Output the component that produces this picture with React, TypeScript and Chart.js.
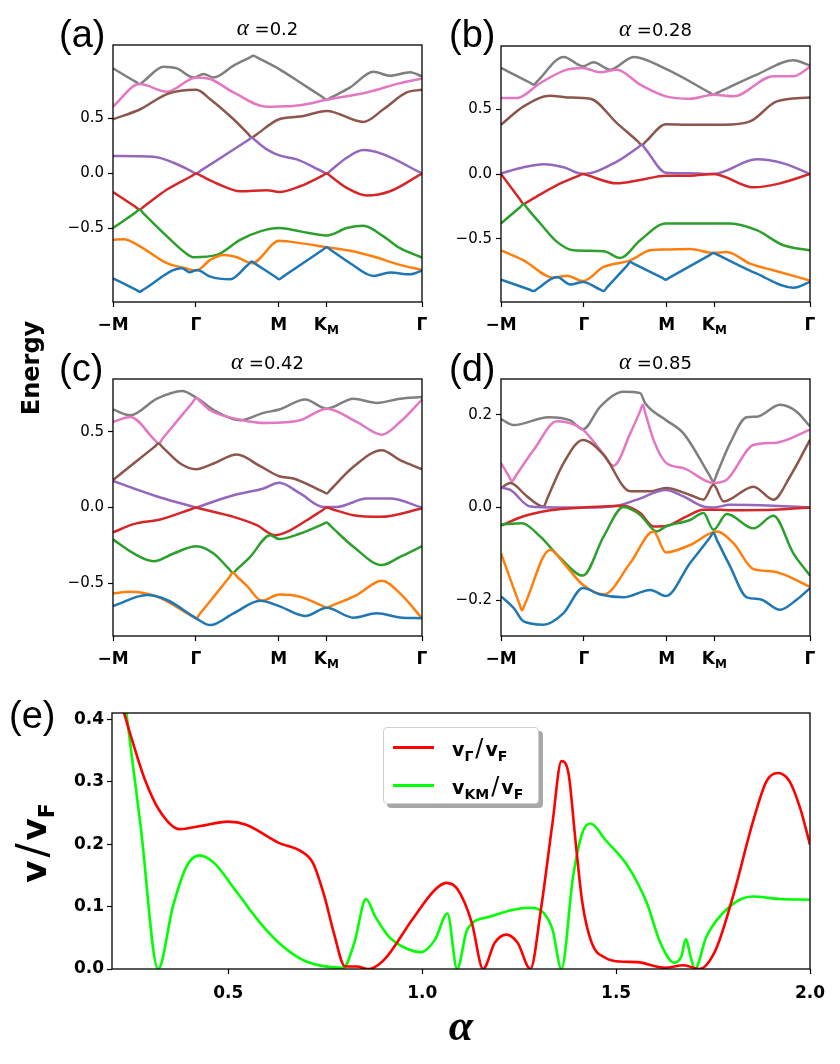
import { useEffect, useRef } from "react";
import { Chart, registerables } from "chart.js";
Chart.register(...registerables);

type P = [number, number];

const BAND_COLORS = ["#1f77b4", "#ff7f0e", "#2ca02c", "#d62728", "#9467bd", "#8c564b", "#e377c2", "#7f7f7f"];

// k-path: -M -> Γ -> M -> K_M -> Γ
const kTicks = [0, 1, 2, 2.577, 3.732];
const kLabels: string[][] = [["−M", ""], ["Γ", ""], ["M", ""], ["K", "M"], ["Γ", ""]];

// ---------- panel (a) alpha = 0.2 ----------
const aBlue: P[] = [[0, -0.954], [0.28, -1.06], [0.322, -1.076], [0.37, -1.056], [0.833, -0.863], [0.925, -0.899], [1.014, -0.878], [1.174, -0.939], [1.416, -0.963], [1.63, -0.831], [1.677, -0.802], [1.72, -0.823], [1.96, -0.94], [2.007, -0.963], [2.05, -0.941], [2.53, -0.697], [2.582, -0.671], [2.63, -0.696], [2.864, -0.817], [3.145, -0.933], [3.346, -0.902], [3.588, -0.918], [3.732, -0.884]];
const aOrange: P[] = [[0, -0.604], [0.129, -0.598], [0.33, -0.665], [0.652, -0.817], [0.873, -0.863], [1.005, -0.884], [1.174, -0.787], [1.335, -0.741], [1.496, -0.762], [1.677, -0.817], [2.007, -0.613], [2.26, -0.634], [2.582, -0.671], [2.864, -0.704], [3.145, -0.756], [3.467, -0.832], [3.732, -0.878]];
const aGreen: P[] = [[0, -0.497], [0.27, -0.356], [0.322, -0.329], [0.37, -0.365], [0.652, -0.573], [0.853, -0.71], [0.973, -0.762], [1.255, -0.741], [1.536, -0.604], [1.778, -0.527], [2.007, -0.497], [2.26, -0.527], [2.582, -0.564], [2.823, -0.497], [3.025, -0.476], [3.266, -0.573], [3.467, -0.68], [3.732, -0.765]];
const aRed: P[] = [[0, -0.168], [0.27, -0.303], [0.322, -0.329], [0.37, -0.303], [0.652, -0.146], [0.95, -0.023], [1.005, 0], [1.06, -0.02], [1.255, -0.091], [1.536, -0.162], [1.858, -0.152], [2.007, -0.168], [2.26, -0.116], [2.53, -0.02], [2.582, 0], [2.63, -0.026], [2.823, -0.131], [3.065, -0.201], [3.346, -0.162], [3.732, 0]];
const aPurple: P[] = [[0, 0.159], [0.491, 0.152], [0.732, 0.098], [0.95, 0.02], [1.005, 0], [1.06, 0.026], [1.335, 0.159], [1.63, 0.303], [1.677, 0.326], [1.72, 0.3], [1.858, 0.22], [2.007, 0.165], [2.22, 0.128], [2.53, 0.018], [2.582, 0], [2.63, 0.028], [2.823, 0.143], [3.025, 0.213], [3.266, 0.174], [3.732, 0]];
const aBrown: P[] = [[0, 0.494], [0.33, 0.585], [0.652, 0.723], [1.005, 0.762], [1.174, 0.677], [1.456, 0.494], [1.63, 0.362], [1.677, 0.326], [1.72, 0.348], [2.007, 0.494], [2.26, 0.518], [2.582, 0.57], [3.025, 0.47], [3.266, 0.585], [3.547, 0.738], [3.732, 0.762]];
const aPink: P[] = [[0, 0.61], [0.322, 0.814], [0.652, 0.744], [1.005, 0.875], [1.174, 0.86], [1.456, 0.738], [1.858, 0.607], [2.007, 0.61], [2.26, 0.622], [2.582, 0.671], [3.065, 0.738], [3.467, 0.823], [3.732, 0.866]];
const aGray: P[] = [[0, 0.957], [0.28, 0.832], [0.322, 0.814], [0.37, 0.84], [0.611, 0.973], [0.772, 0.957], [0.973, 0.875], [1.094, 0.905], [1.215, 0.875], [1.456, 0.982], [1.65, 1.055], [1.697, 1.073], [1.75, 1.052], [2.007, 0.951], [2.26, 0.829], [2.53, 0.696], [2.582, 0.671], [2.63, 0.69], [2.864, 0.784], [3.145, 0.927], [3.346, 0.89], [3.588, 0.921], [3.732, 0.884]];

// ---------- panel (b) alpha = 0.28 ----------
const bBlue: P[] = [[0, -0.814], [0.35, -0.892], [0.394, -0.902], [0.44, -0.884], [0.676, -0.794], [0.837, -0.851], [0.989, -0.832], [1.2, -0.891], [1.239, -0.902], [1.28, -0.873], [1.52, -0.707], [1.561, -0.678], [1.6, -0.69], [1.95, -0.801], [1.991, -0.814], [2.04, -0.796], [2.52, -0.625], [2.566, -0.608], [2.61, -0.621], [3.089, -0.768], [3.531, -0.876], [3.732, -0.832]];
const bOrange: P[] = [[0, -0.588], [0.273, -0.665], [0.635, -0.799], [0.796, -0.784], [0.989, -0.825], [1.239, -0.716], [1.561, -0.665], [1.802, -0.588], [1.991, -0.582], [2.284, -0.577], [2.566, -0.608], [2.727, -0.601], [3.008, -0.691], [3.29, -0.742], [3.732, -0.82]];
const bGreen: P[] = [[0, -0.381], [0.23, -0.256], [0.273, -0.232], [0.32, -0.267], [0.475, -0.381], [0.676, -0.523], [0.877, -0.588], [1.239, -0.595], [1.44, -0.647], [1.681, -0.51], [1.991, -0.381], [2.284, -0.381], [2.767, -0.381], [3.089, -0.433], [3.411, -0.549], [3.732, -0.588]];
const bRed: P[] = [[0, 0], [0.23, -0.196], [0.273, -0.232], [0.32, -0.215], [0.676, -0.085], [0.94, -0.013], [0.989, 0], [1.04, -0.009], [1.4, -0.072], [1.681, -0.046], [1.991, -0.013], [2.284, -0.013], [2.566, 0], [3.049, -0.103], [3.371, -0.072], [3.732, 0]];
const bPurple: P[] = [[0, 0.005], [0.273, 0.052], [0.515, 0.075], [0.756, 0.052], [0.989, 0], [1.4, 0.095], [1.65, 0.202], [1.701, 0.224], [1.75, 0.188], [1.991, 0.01], [2.284, 0.005], [2.566, 0], [3.089, 0.113], [3.411, 0.082], [3.732, 0]];
const bBrown: P[] = [[0, 0.379], [0.273, 0.521], [0.595, 0.603], [0.796, 0.59], [1.078, 0.58], [1.4, 0.392], [1.65, 0.253], [1.701, 0.224], [1.75, 0.251], [1.991, 0.384], [2.284, 0.379], [2.687, 0.379], [3.008, 0.405], [3.33, 0.559], [3.732, 0.59]];
const bPink: P[] = [[0, 0.585], [0.193, 0.585], [0.475, 0.701], [0.796, 0.804], [0.989, 0.817], [1.199, 0.784], [1.4, 0.804], [1.681, 0.688], [1.991, 0.598], [2.284, 0.58], [2.566, 0.611], [2.807, 0.598], [3.29, 0.753], [3.531, 0.753], [3.732, 0.825]];
const bGray: P[] = [[0, 0.817], [0.35, 0.703], [0.394, 0.688], [0.44, 0.715], [0.756, 0.902], [0.989, 0.83], [1.118, 0.861], [1.319, 0.804], [1.601, 0.902], [1.991, 0.809], [2.52, 0.627], [2.566, 0.611], [2.61, 0.624], [3.089, 0.765], [3.531, 0.876], [3.732, 0.835]];

// ---------- panel (c) alpha = 0.42 ----------
const cBlue: P[] = [[0, -0.652], [0.41, -0.579], [0.652, -0.612], [1.005, -0.733], [1.174, -0.778], [1.456, -0.7], [1.778, -0.617], [2.007, -0.652], [2.321, -0.718], [2.582, -0.663], [2.904, -0.729], [3.185, -0.7], [3.467, -0.727], [3.732, -0.733]];
const cOrange: P[] = [[0, -0.568], [0.209, -0.557], [0.531, -0.59], [0.96, -0.72], [1.005, -0.733], [1.05, -0.703], [1.227, -0.583], [1.4, -0.465], [1.448, -0.432], [1.5, -0.458], [1.62, -0.52], [1.798, -0.617], [2.007, -0.575], [2.26, -0.59], [2.53, -0.651], [2.582, -0.663], [2.63, -0.652], [2.944, -0.579], [3.246, -0.485], [3.467, -0.568], [3.732, -0.733]];
const cGreen: P[] = [[0, -0.211], [0.249, -0.304], [0.491, -0.355], [0.732, -0.304], [1.005, -0.256], [1.215, -0.304], [1.4, -0.406], [1.448, -0.432], [1.5, -0.407], [1.657, -0.326], [1.898, -0.183], [2.007, -0.209], [2.26, -0.172], [2.53, -0.111], [2.582, -0.099], [2.63, -0.123], [2.904, -0.26], [3.246, -0.381], [3.467, -0.326], [3.732, -0.256]];
const cRed: P[] = [[0, -0.165], [0.249, -0.11], [0.571, -0.079], [0.95, -0.01], [1.005, 0], [1.06, -0.008], [1.456, -0.062], [1.737, -0.117], [1.959, -0.183], [2.1, -0.161], [2.341, -0.084], [2.53, -0.018], [2.582, 0], [2.63, -0.008], [2.904, -0.051], [3.226, -0.062], [3.732, -0.007]];
const cPurple: P[] = [[0, 0.176], [0.249, 0.126], [0.571, 0.066], [0.95, 0.008], [1.005, 0], [1.06, 0.01], [1.456, 0.081], [1.818, 0.126], [2.007, 0.163], [2.26, 0.093], [2.542, 0.004], [2.703, 0.004], [3.065, 0.059], [3.346, 0.059], [3.732, 0]];
const cBrown: P[] = [[0, 0.181], [0.249, 0.291], [0.5, 0.401], [0.551, 0.423], [0.6, 0.398], [0.812, 0.291], [1.005, 0.253], [1.215, 0.291], [1.496, 0.35], [1.778, 0.273], [2.007, 0.207], [2.18, 0.192], [2.53, 0.106], [2.582, 0.093], [2.63, 0.119], [2.904, 0.269], [3.246, 0.379], [3.467, 0.313], [3.732, 0.253]];
const cPink: P[] = [[0, 0.566], [0.209, 0.599], [0.5, 0.449], [0.551, 0.423], [0.6, 0.456], [0.96, 0.695], [1.005, 0.725], [1.05, 0.703], [1.174, 0.643], [1.536, 0.581], [1.858, 0.559], [2.26, 0.577], [2.582, 0.654], [2.944, 0.566], [3.246, 0.482], [3.467, 0.566], [3.732, 0.714]];
const cGray: P[] = [[0, 0.648], [0.209, 0.61], [0.531, 0.72], [0.833, 0.771], [1.005, 0.727], [1.255, 0.632], [1.536, 0.577], [1.818, 0.626], [2.007, 0.648], [2.321, 0.714], [2.582, 0.654], [2.904, 0.72], [3.185, 0.692], [3.467, 0.72], [3.732, 0.731]];

// ---------- panel (d) alpha = 0.85 ----------
const dBlue: P[] = [[0, -0.192], [0.153, -0.217], [0.273, -0.246], [0.515, -0.253], [0.756, -0.228], [0.989, -0.174], [1.199, -0.188], [1.48, -0.194], [1.802, -0.178], [1.991, -0.191], [2.284, -0.12], [2.52, -0.066], [2.566, -0.055], [2.61, -0.071], [2.767, -0.127], [2.968, -0.194], [3.129, -0.198], [3.37, -0.221], [3.571, -0.199], [3.732, -0.174]];
const dOrange: P[] = [[0, -0.099], [0.22, -0.207], [0.253, -0.222], [0.29, -0.208], [0.595, -0.091], [0.756, -0.12], [0.989, -0.167], [1.239, -0.188], [1.561, -0.12], [1.842, -0.052], [1.991, -0.097], [2.284, -0.081], [2.606, -0.052], [2.807, -0.077], [3.049, -0.133], [3.29, -0.138], [3.732, -0.171]];
const dGreen: P[] = [[0, -0.037], [0.253, -0.034], [0.475, -0.063], [0.716, -0.109], [0.989, -0.147], [1.239, -0.063], [1.48, 0.001], [1.681, -0.016], [1.882, -0.052], [1.991, -0.041], [2.284, -0.027], [2.445, -0.012], [2.566, -0.048], [2.727, -0.014], [3.049, -0.045], [3.29, -0.018], [3.531, -0.099], [3.732, -0.147]];
const dRed: P[] = [[0, -0.039], [0.273, -0.019], [0.595, -0.006], [0.989, 0], [1.48, 0.004], [1.681, -0.012], [1.842, -0.041], [1.991, -0.04], [2.244, -0.019], [2.445, -0.005], [2.647, -0.005], [2.767, -0.006], [3.29, -0.005], [3.732, 0]];
const dPurple: P[] = [[0, 0.043], [0.113, 0.038], [0.354, 0.002], [0.676, 0], [0.989, 0], [1.4, 0.004], [1.641, 0.017], [1.991, 0.038], [2.204, 0.024], [2.445, 0.002], [2.566, 0], [2.767, 0.006], [3.29, 0.004], [3.732, 0]];
const dBrown: P[] = [[0, 0.042], [0.113, 0.053], [0.314, 0.024], [0.515, 0.002], [0.56, 0.02], [0.756, 0.096], [0.989, 0.146], [1.239, 0.114], [1.561, 0.035], [1.802, 0.035], [1.991, 0.042], [2.284, 0.027], [2.445, 0.017], [2.566, 0.049], [2.687, 0.013], [3.049, 0.045], [3.29, 0.017], [3.491, 0.067], [3.732, 0.146]];
const dPink: P[] = [[0, 0.096], [0.1, 0.066], [0.133, 0.056], [0.17, 0.066], [0.394, 0.124], [0.676, 0.186], [0.989, 0.168], [1.199, 0.124], [1.359, 0.09], [1.561, 0.16], [1.68, 0.208], [1.713, 0.222], [1.74, 0.206], [1.842, 0.146], [1.991, 0.097], [2.204, 0.085], [2.566, 0.053], [2.727, 0.06], [3.049, 0.135], [3.33, 0.14], [3.732, 0.168]];
const dGray: P[] = [[0, 0.191], [0.153, 0.178], [0.575, 0.195], [0.837, 0.188], [0.989, 0.169], [1.199, 0.218], [1.48, 0.25], [1.681, 0.247], [1.742, 0.225], [1.991, 0.189], [2.204, 0.16], [2.52, 0.069], [2.566, 0.056], [2.61, 0.074], [2.767, 0.139], [2.968, 0.195], [3.089, 0.196], [3.37, 0.222], [3.571, 0.207], [3.732, 0.175]];

// ---------- panel (e) velocities vs alpha ----------
const vGamma: P[] = [[0.2, 0.48], [0.231, 0.41], [0.26, 0.35], [0.285, 0.303], [0.321, 0.255], [0.374, 0.224], [0.428, 0.229], [0.499, 0.236], [0.546, 0.231], [0.63, 0.202], [0.689, 0.188], [0.718, 0.17], [0.748, 0.116], [0.772, 0.058], [0.801, 0.004], [0.831, 0.004], [0.861, 0], [0.902, 0.015], [0.974, 0.079], [1.033, 0.127], [1.062, 0.138], [1.092, 0.127], [1.128, 0.074], [1.157, 0], [1.187, 0.042], [1.217, 0.055], [1.246, 0.042], [1.279, 0], [1.306, 0.095], [1.336, 0.234], [1.359, 0.333], [1.377, 0.314], [1.395, 0.207], [1.413, 0.106], [1.437, 0.042], [1.472, 0.018], [1.508, 0.012], [1.555, 0.011], [1.626, 0.002], [1.674, 0.006], [1.715, 0], [1.757, 0.031], [1.804, 0.122], [1.852, 0.234], [1.888, 0.301], [1.917, 0.314], [1.947, 0.301], [1.976, 0.255], [2.0, 0.199]];
const vKM: P[] = [[0.2, 0.6], [0.237, 0.41], [0.274, 0.228], [0.319, 0], [0.357, 0.1], [0.392, 0.164], [0.425, 0.182], [0.463, 0.17], [0.523, 0.122], [0.582, 0.074], [0.641, 0.036], [0.701, 0.012], [0.796, 0.002], [0.825, 0.042], [0.855, 0.112], [0.879, 0.084], [0.914, 0.052], [0.962, 0.032], [0.997, 0.027], [1.033, 0.047], [1.065, 0.089], [1.09, 0], [1.116, 0.063], [1.176, 0.084], [1.235, 0.095], [1.277, 0.098], [1.313, 0.09], [1.336, 0.063], [1.359, 0], [1.389, 0.148], [1.413, 0.218], [1.434, 0.233], [1.472, 0.207], [1.531, 0.164], [1.579, 0.106], [1.614, 0.042], [1.65, 0.01], [1.668, 0.02], [1.68, 0.048], [1.692, 0.02], [1.703, 0], [1.733, 0.052], [1.793, 0.1], [1.852, 0.116], [1.923, 0.112], [2.0, 0.111]];
const eXTicks = [0.5, 1.0, 1.5, 2.0];
const eYTicks = [0, 0.1, 0.2, 0.3, 0.4];

const bandTicks = [-0.5, 0, 0.5];
const dTicks = [-0.2, 0, 0.2];

const WY = 70, PT = 40, PR = 15, HX = 40;

const fmt = (v: number) => (v < 0 ? "−" : "") + Math.abs(v).toFixed(1);

function overlayPlugin(title: string) {
  return {
    id: "overlay",
    afterDraw(chart: any) {
      const { ctx, chartArea } = chart;
      const { left, top, right, bottom } = chartArea;
      ctx.save();
      ctx.strokeStyle = "#000";
      ctx.lineWidth = 1.3;
      ctx.strokeRect(left, top, right - left, bottom - top);
      ctx.fillStyle = "#000";
      ctx.textBaseline = "alphabetic";
      ctx.textAlign = "left";
      const xs = chart.scales.x;
      kTicks.forEach((v, i) => {
        const [main, sub] = kLabels[i];
        const px = xs.getPixelForValue(v);
        ctx.font = "bold 17px 'DejaVu Sans'";
        const wm = ctx.measureText(main).width;
        ctx.font = "bold 12px 'DejaVu Sans'";
        const ws = sub ? ctx.measureText(sub).width : 0;
        const x0 = px - (wm + ws) / 2;
        ctx.font = "bold 17px 'DejaVu Sans'";
        ctx.fillText(main, x0, bottom + 28);
        if (sub) {
          ctx.font = "bold 12px 'DejaVu Sans'";
          ctx.fillText(sub, x0 + wm, bottom + 32);
        }
      });
      ctx.font = "italic 23px 'Liberation Serif'";
      const wa = ctx.measureText("α").width;
      ctx.font = "18px 'DejaVu Sans'";
      const rest = " =" + title;
      const wr = ctx.measureText(rest).width;
      const cx = (left + right) / 2;
      const x0 = cx - (wa + wr) / 2;
      ctx.font = "italic 23px 'Liberation Serif'";
      ctx.fillText("α", x0, top - 10);
      ctx.font = "18px 'DejaVu Sans'";
      ctx.fillText(rest, x0 + wa, top - 10);
      ctx.restore();
    },
  };
}

function BandPanel(props: { bands: P[][]; yMax: number; yTicks: number[]; title: string; l: number; t: number; r: number; b: number }) {
  const ref = useRef<HTMLCanvasElement>(null);
  const { bands, yMax, yTicks, title, l, t, r, b } = props;
  const w = WY + (r - l) + PR;
  const h = PT + (b - t) + HX;
  useEffect(() => {
    const chart = new Chart(ref.current as HTMLCanvasElement, {
      type: "line",
      data: {
        datasets: bands.map((band, i) => ({
          data: band.map(([x, y]) => ({ x, y })),
          borderColor: BAND_COLORS[i],
          borderWidth: 2.5,
          pointRadius: 0,
          fill: false,
          cubicInterpolationMode: "monotone" as const,
        })),
      },
      options: {
        animation: false,
        responsive: false,
        maintainAspectRatio: false,
        events: [],
        layout: { padding: { top: PT, right: PR, left: 0, bottom: 0 } },
        plugins: { legend: { display: false }, tooltip: { enabled: false } },
        scales: {
          x: {
            type: "linear",
            min: 0,
            max: 3.732,
            afterBuildTicks: (s: any) => { s.ticks = kTicks.map((v) => ({ value: v })); },
            afterFit: (s: any) => { s.height = HX; },
            ticks: { display: false },
            grid: { drawOnChartArea: false, drawTicks: true, tickLength: 5, tickColor: "#000", tickWidth: 1.2 },
            border: { display: false },
          },
          y: {
            type: "linear",
            min: -yMax,
            max: yMax,
            afterBuildTicks: (s: any) => { s.ticks = yTicks.map((v) => ({ value: v })); },
            afterFit: (s: any) => { s.width = WY; },
            ticks: { callback: (v: any) => fmt(Number(v)), color: "#000", font: { family: "DejaVu Sans", size: 15 }, padding: 4 },
            grid: { drawOnChartArea: false, drawTicks: true, tickLength: 5, tickColor: "#000", tickWidth: 1.2 },
            border: { display: false },
          },
        },
      },
      plugins: [overlayPlugin(title)],
    } as any);
    return () => chart.destroy();
  }, []);
  return <canvas ref={ref} width={w} height={h} style={{ position: "absolute", left: l - WY, top: t - PT, width: w, height: h }} />;
}

const EWY = 70, EPT = 20, EPR = 25, EHX = 45;

function VelocityPanel() {
  const ref = useRef<HTMLCanvasElement>(null);
  const l = 112, t = 713, r = 810, b = 969;
  const w = EWY + (r - l) + EPR;
  const h = EPT + (b - t) + EHX;
  useEffect(() => {
    const chart = new Chart(ref.current as HTMLCanvasElement, {
      type: "line",
      data: {
        datasets: [
          { data: vGamma.map(([x, y]) => ({ x, y })), borderColor: "#ff0000", borderWidth: 2.6, pointRadius: 0, fill: false, cubicInterpolationMode: "monotone" },
          { data: vKM.map(([x, y]) => ({ x, y })), borderColor: "#00ff00", borderWidth: 2.6, pointRadius: 0, fill: false, cubicInterpolationMode: "monotone" },
        ],
      },
      options: {
        animation: false,
        responsive: false,
        maintainAspectRatio: false,
        events: [],
        layout: { padding: { top: EPT, right: EPR, left: 0, bottom: 0 } },
        plugins: { legend: { display: false }, tooltip: { enabled: false } },
        scales: {
          x: {
            type: "linear",
            min: 0.2,
            max: 2.0,
            afterBuildTicks: (s: any) => { s.ticks = eXTicks.map((v) => ({ value: v })); },
            afterFit: (s: any) => { s.height = EHX; },
            ticks: { callback: (v: any) => Number(v).toFixed(1), color: "#000", font: { family: "DejaVu Sans", size: 17, weight: "bold" }, padding: 9, maxRotation: 0 },
            grid: { drawOnChartArea: false, drawTicks: true, tickLength: 5, tickColor: "#000", tickWidth: 1.2 },
            border: { display: false },
          },
          y: {
            type: "linear",
            min: 0,
            max: 0.41,
            afterBuildTicks: (s: any) => { s.ticks = eYTicks.map((v) => ({ value: v })); },
            afterFit: (s: any) => { s.width = EWY; },
            ticks: { callback: (v: any) => Number(v).toFixed(1), color: "#000", font: { family: "DejaVu Sans", size: 17, weight: "bold" }, padding: 3 },
            grid: { drawOnChartArea: false, drawTicks: true, tickLength: 5, tickColor: "#000", tickWidth: 1.2 },
            border: { display: false },
          },
        },
      },
      plugins: [
        {
          id: "frame",
          afterDraw(chart: any) {
            const { ctx, chartArea } = chart;
            ctx.save();
            ctx.strokeStyle = "#000";
            ctx.lineWidth = 1.3;
            ctx.strokeRect(chartArea.left, chartArea.top, chartArea.right - chartArea.left, chartArea.bottom - chartArea.top);
            ctx.restore();
          },
        },
      ],
    } as any);
    return () => chart.destroy();
  }, []);
  return <canvas ref={ref} width={w} height={h} style={{ position: "absolute", left: l - EWY, top: t - EPT, width: w, height: h }} />;
}

const letter: any = { position: "absolute", fontFamily: "'Liberation Sans'", fontSize: 38, lineHeight: "38px", color: "#000", whiteSpace: "nowrap" };
const subS: any = { fontSize: 14, position: "relative", top: 5 };

function Legend() {
  const row = (color: string, top: number, sub: string) => (
    <div style={{ position: "absolute", left: 0, top, width: 155, height: 30 }}>
      <div style={{ position: "absolute", left: 9, top: 13, width: 41, height: 3, background: color }} />
      <div style={{ position: "absolute", left: 68, top: 0, height: 30, lineHeight: "30px", fontFamily: "'DejaVu Sans'", fontWeight: "bold", fontSize: 19, whiteSpace: "nowrap" }}>
        v<span style={subS}>{sub}</span>
        <span style={{ fontWeight: "normal", fontSize: 24, margin: "0 2px" }}>/</span>v<span style={subS}>F</span>
      </div>
    </div>
  );
  return (
    <div style={{ position: "absolute", left: 383, top: 727, width: 154, height: 75, background: "#fff", border: "1px solid #cfcfcf", borderRadius: 4, boxShadow: "4px 4px 0 #a8a8a8" }}>
      {row("#ff0000", 5, "Γ")}
      {row("#00ff00", 43, "KM")}
    </div>
  );
}

export default function App() {
  return (
    <div style={{ position: "absolute", left: 0, top: 0, width: 840, height: 1064, background: "#fff", overflow: "hidden" }}>
      <BandPanel bands={[aBlue, aOrange, aGreen, aRed, aPurple, aBrown, aPink, aGray]} yMax={1.17} yTicks={bandTicks} title="0.2" l={113} t={45} r={422} b={302} />
      <BandPanel bands={[bBlue, bOrange, bGreen, bRed, bPurple, bBrown, bPink, bGray]} yMax={0.986} yTicks={bandTicks} title="0.28" l={501} t={46} r={810} b={302} />
      <BandPanel bands={[cBlue, cOrange, cGreen, cRed, cPurple, cBrown, cPink, cGray]} yMax={0.85} yTicks={bandTicks} title="0.42" l={113} t={379} r={422} b={636} />
      <BandPanel bands={[dBlue, dOrange, dGreen, dRed, dPurple, dBrown, dPink, dGray]} yMax={0.2775} yTicks={dTicks} title="0.85" l={501} t={379} r={810} b={636} />
      <VelocityPanel />
      <Legend />
      <div style={{ ...letter, left: 59, top: 15 }}>(a)</div>
      <div style={{ ...letter, left: 449, top: 15 }}>(b)</div>
      <div style={{ ...letter, left: 59, top: 349 }}>(c)</div>
      <div style={{ ...letter, left: 449, top: 349 }}>(d)</div>
      <div style={{ ...letter, left: 9, top: 696 }}>(e)</div>
      <div style={{ position: "absolute", left: 31, top: 368, transform: "translate(-50%,-50%) rotate(-90deg)", fontFamily: "'DejaVu Sans'", fontWeight: "bold", fontSize: 24, whiteSpace: "nowrap" }}>Energy</div>
      <div style={{ position: "absolute", left: 35, top: 843, transform: "translate(-50%,-50%) rotate(-90deg)", fontFamily: "'DejaVu Sans'", fontWeight: "bold", fontSize: 34, lineHeight: "40px", whiteSpace: "nowrap" }}>
        v<span style={{ fontWeight: "normal", fontSize: 42, margin: "0 3px" }}>/</span>v<span style={{ fontSize: 22, position: "relative", top: 8 }}>F</span>
      </div>
      <div style={{ position: "absolute", left: 461, top: 1004, transform: "translateX(-50%)", fontFamily: "'Liberation Serif'", fontStyle: "italic", fontWeight: "bold", fontSize: 44, lineHeight: "44px" }}>α</div>
    </div>
  );
}
